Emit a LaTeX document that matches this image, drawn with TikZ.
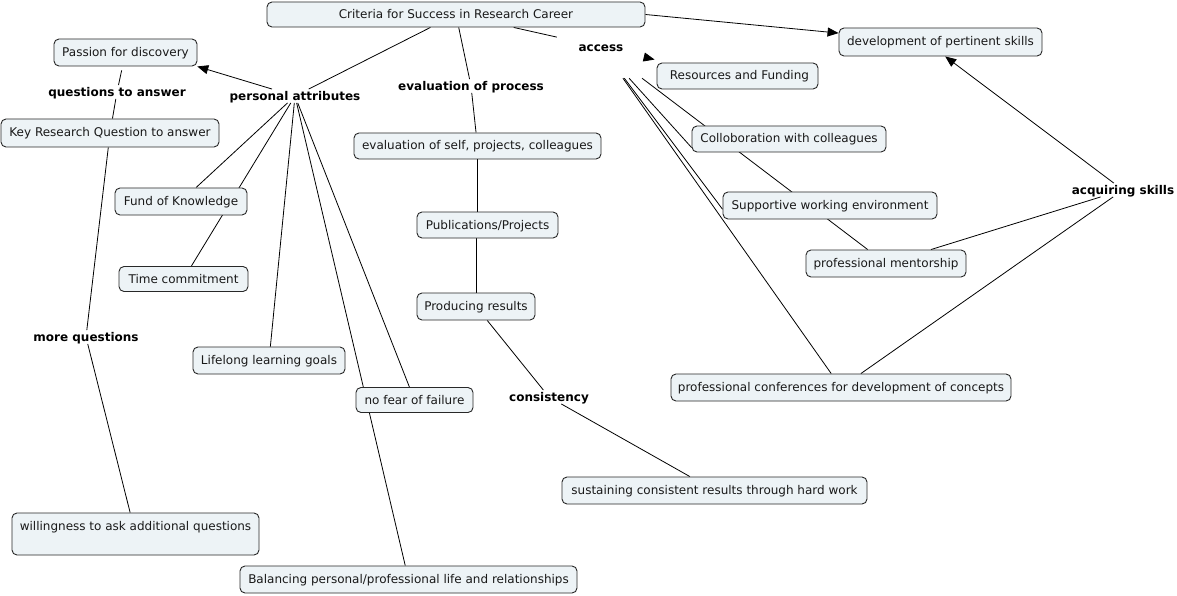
\documentclass[tikz,border=0pt]{standalone}
\usepackage{fontspec}
\setmainfont{DejaVu Sans}
\usetikzlibrary{arrows.meta,calc}
\definecolor{boxfill}{RGB}{237,243,246}
\definecolor{boxline}{RGB}{40,40,40}
\definecolor{txt}{RGB}{25,25,25}
\pgfdeclarelayer{bg}
\pgfsetlayers{bg,main}
\begin{document}
\begin{tikzpicture}[x=1pt,y=-1pt,
  box/.style={draw=boxline, fill=boxfill, rounded corners=5pt, line width=0.9pt,
    inner sep=0pt, font=\fontsize{12}{14}\selectfont, text=txt,
    text height=9.5pt, text depth=1.5pt, minimum height=27pt},
  lab/.style={font=\fontsize{12}{14}\selectfont\bfseries, inner sep=1.5pt,
    text height=9.5pt, text depth=1pt, text=black},
  link/.style={line width=0.8pt, draw=black},
  arr/.style={link, -{Triangle[length=11pt,width=9pt]}}]
\useasboundingbox (0,0) rectangle (1177,596);

% boxes
\node[box, minimum width=378pt, minimum height=25pt] (crit) at (456,14.5) {Criteria for Success in Research Career};
\node[box, minimum width=203pt, minimum height=28pt] (dev) at (940.5,42) {development of pertinent skills};
\node[box, minimum width=143pt] (passion) at (125.5,52.5) {Passion for discovery};
\node[box, minimum width=218pt, minimum height=28pt] (key) at (110,133) {Key Research Question to answer};
\node[box, minimum width=161pt, minimum height=26pt] (res) at (737.5,76) {\ Resources and Funding};
\node[box, minimum width=194pt, minimum height=26pt] (collab) at (789,139) {Colloboration with colleagues};
\node[box, minimum width=247pt, minimum height=26pt] (evalself) at (477.5,146) {evaluation of self, projects, colleagues};
\node[box, minimum width=132pt] (fund) at (181,201.5) {Fund of Knowledge};
\node[box, minimum width=141pt, minimum height=26pt] (pub) at (487.5,225) {Publications/Projects};
\node[box, minimum width=214pt] (support) at (830,205.5) {Supportive working environment};
\node[box, minimum width=160pt] (mentor) at (886,263.5) {professional mentorship};
\node[box, minimum width=129pt, minimum height=25pt] (time) at (183.5,279) {Time commitment};
\node[box, minimum width=118pt] (prod) at (476,306.5) {Producing results};
\node[box, minimum width=152pt] (life) at (269,360.5) {Lifelong learning goals};
\node[box, minimum width=340pt] (conf) at (841,387.5) {professional conferences for development of concepts};
\node[box, minimum width=117pt, minimum height=25pt] (nofear) at (414.5,400) {no fear of failure};
\node[box, minimum width=305pt] (sustain) at (714.5,490.5) {sustaining consistent results through hard work};
\node[box, minimum width=247pt, minimum height=42pt, text depth=17pt] (will) at (135.5,534) {willingness to ask additional questions};
\node[box, minimum width=337pt] (bal) at (408.5,579.5) {Balancing personal/professional life and relationships};

% linking phrases
\node[lab, minimum width=88pt, minimum height=62pt] (access) at (601,47) {access};
\node[lab] (pa) at (295,96) {personal attributes};
\node[lab] (qta) at (117,92) {questions to answer};
\node[lab] (evalp) at (471,86) {evaluation of process};
\node[lab] (mq) at (86,337) {more questions};
\node[lab] (cons) at (549,397) {consistency};
\node[lab] (acq) at (1123,190) {acquiring skills};

\begin{pgfonlayer}{bg}
  \fill[white] (0,0) rectangle (1177,596);
  \draw[link] (crit) -- (pa);
  \draw[arr] (pa) -- (passion.-11.75);
  \draw[link] (pa) -- (fund);
  \draw[link] (pa) -- (time);
  \draw[link] (pa) -- (life);
  \draw[link] (pa) -- (nofear);
  \draw[link] (pa) -- (bal);
  \draw[link, shorten <=4pt] (passion) -- (qta);
  \draw[link] (qta) -- (key);
  \draw[link] (key) -- (mq);
  \draw[link] (mq) -- (will);
  \draw[link] (crit) -- (evalp);
  \draw[link] (evalp) -- (evalself);
  \draw[link] (evalself.south) -- (evalself.south |- pub.north);
  \draw[link] (prod.north |- pub.south) -- (prod.north);
  \draw[link] (prod) -- (cons);
  \draw[link] (cons) -- (sustain);
  \draw[link] (crit) -- (access);
  \draw[arr] (access) -- ($(res.north west)+(-2,-3)$);
  \draw[arr] (crit.east) -- (dev.175);
  \draw[link] (access) -- (collab.185);
  \draw[link] (access) -- (support.182);
  \draw[link] (access) -- (mentor);
  \draw[link] (access) -- (conf);
  \draw[arr] (acq) -- (dev.-72);
  \draw[link] (acq) -- (mentor);
  \draw[link] (acq) -- (conf);
\end{pgfonlayer}
\end{tikzpicture}
\end{document}
